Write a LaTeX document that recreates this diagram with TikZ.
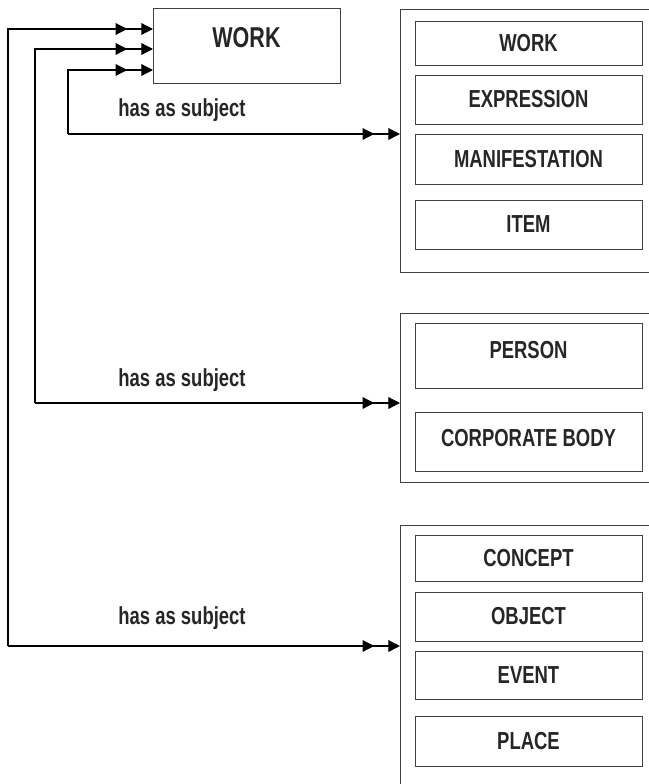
\documentclass[tikz,border=0pt]{standalone}
\usepackage{fontspec}
\setmainfont{Liberation Sans}[FakeStretch=0.75]
\usetikzlibrary{arrows.meta, decorations.markings}
\tikzstyle{entity} = [rectangle, minimum width=6.81cm, text centered, draw=black!75, line width=0.8pt, font=\fontsize{21}{23}\selectfont\bfseries, text=black!85]
\tikzstyle{groupbox} = [rectangle, anchor=north west, minimum width=7.8cm, draw=black!75, line width=0.8pt]
\tikzstyle{relname} = [font=\fontsize{21}{23}\selectfont\bfseries, text=black!85]
\tikzstyle{dbl} = [line width=1.1pt, -{Triangle[length=10pt,width=10pt]}, postaction={decorate}, decoration={markings, mark=at position -22pt with {\arrow{Triangle[length=10pt,width=10pt]}}}]

\begin{document}
\begin{tikzpicture}[x=0.03cm, y=-0.03cm]
\clip (0,0) rectangle (649,784);
\fill[white] (0,0) rectangle (649,784);

\node (work) [rectangle, draw=black!75, line width=0.8pt, minimum width=5.61cm, minimum height=2.25cm, text depth=0.48cm, font=\fontsize{24.5}{26}\selectfont\bfseries, text=black!85] at (246.5,45.5) {WORK};

% group 1
\node (grpone) [groupbox, minimum height=7.89cm] at (400,9) {};
\node (wwork) [entity, minimum height=1.32cm] at (528.5,43) {WORK};
\node (expr) [entity, minimum height=1.47cm] at (528.5,99.5) {EXPRESSION};
\node (manif) [entity, minimum height=1.5cm] at (528.5,159) {MANIFESTATION};
\node (item) [entity, minimum height=1.47cm] at (528.5,224.5) {ITEM};

% group 2
\node (grptwo) [groupbox, minimum height=5.07cm] at (400,313) {};
\node (person) [entity, minimum height=1.95cm, text depth=0.33cm] at (528.5,355.5) {PERSON};
\node (corp) [entity, minimum height=1.77cm, text depth=0.21cm] at (528.5,441.5) {CORPORATE BODY};

% group 3
\node (grpthree) [groupbox, minimum height=8.4cm] at (400,525) {};
\node (concept) [entity, minimum height=1.38cm] at (528.5,558) {CONCEPT};
\node (object) [entity, minimum height=1.47cm] at (528.5,616.5) {OBJECT};
\node (event) [entity, minimum height=1.44cm] at (528.5,675) {EVENT};
\node (place) [entity, minimum height=1.5cm] at (528.5,741) {PLACE};

\node (subjone) [relname] at (182,110) {has as subject};
\node (subjtwo) [relname] at (182,380) {has as subject};
\node (subjthree) [relname] at (182,618) {has as subject};

\coordinate (cornA) at (8,646);
\coordinate (cornB) at (35,403);
\coordinate (cornC) at (68,134);
\coordinate (tipA) at (153,29);
\coordinate (tipB) at (153,49);
\coordinate (tipC) at (153,70);

\draw [dbl] (cornA) |- (tipA);
\draw [dbl] (cornB) |- (tipB);
\draw [dbl] (cornC) |- (tipC);
\draw [dbl] (cornC) -- (grpone.west |- cornC);
\draw [dbl] (cornB) -- (grptwo.west |- cornB);
\draw [dbl] (cornA) -- (grpthree.west |- cornA);
\end{tikzpicture}
\end{document}
